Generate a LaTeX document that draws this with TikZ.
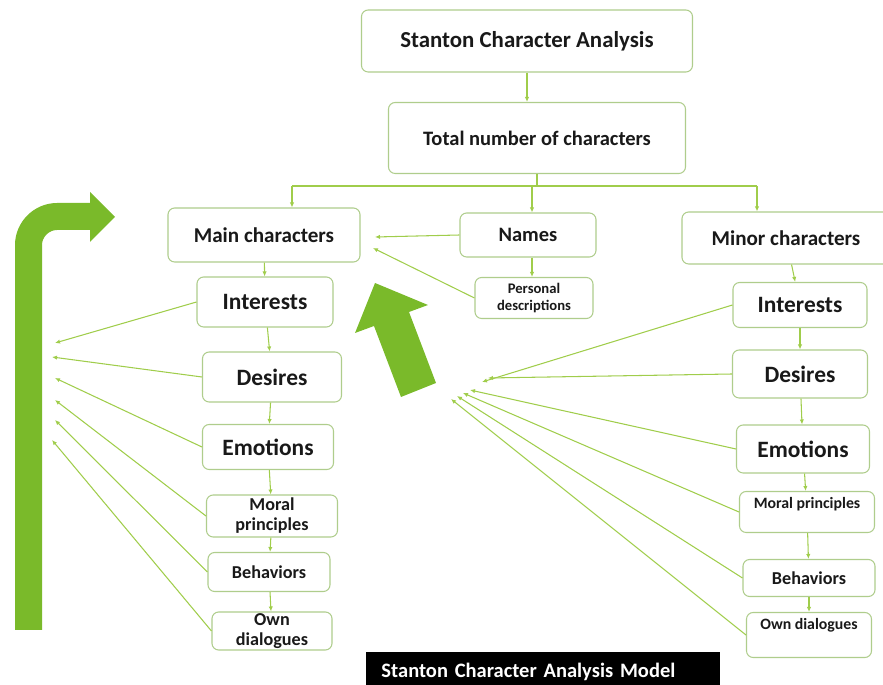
\documentclass[tikz,border=0pt]{standalone}
\usepackage{fontspec}
\setmainfont{Carlito}
\usetikzlibrary{arrows.meta}

\definecolor{boxline}{RGB}{175,205,140}
\definecolor{linkgreen}{RGB}{160,205,75}
\definecolor{arrowgreen}{RGB}{122,186,42}
\definecolor{inktext}{RGB}{25,25,25}

\begin{document}
\begin{tikzpicture}[x=0.03cm, y=-0.03cm,
    box/.style={rectangle, rounded corners=2mm, draw=boxline, line width=0.9pt, fill=white, text=inktext, align=center},
    link/.style={draw=linkgreen, line width=0.9pt, -{Latex[length=1.5mm, width=1.3mm]}},
    wire/.style={draw=linkgreen, line width=0.9pt}]

  \useasboundingbox (0,0) rectangle (883,685);

  % big green arrows
  \fill[arrowgreen] (15,630) -- (15,245) .. controls (15,222) and (34,203) .. (57,203) -- (90,203) -- (90,192)
        -- (115,217) -- (90,242) -- (90,230) -- (57,230) .. controls (49,230) and (42,237) .. (42,245) -- (42,630) -- cycle;
  \fill[arrowgreen] (401,397) -- (374,326) -- (355,333) -- (375,283) -- (428,305) -- (409,312) -- (436,383) -- cycle;

  % top of the tree
  \node [box, minimum width=9.93cm, minimum height=1.86cm, font=\bfseries\fontsize{19.5}{22}\selectfont] (title)   at (527,41)  {Stanton Character Analysis};
  \node [box, minimum width=8.91cm, minimum height=2.13cm, font=\bfseries\fontsize{17.5}{20}\selectfont] (total)   at (537,138) {Total number of characters};
  \node [box, minimum width=5.76cm, minimum height=1.62cm, font=\bfseries\fontsize{18}{20}\selectfont]   (main)    at (264,235) {Main characters};
  \node [box, minimum width=4.08cm, minimum height=1.32cm, font=\bfseries\fontsize{17.5}{20}\selectfont] (names)   at (528,235) {Names};
  \node [box, minimum width=3.54cm, minimum height=1.23cm, inner sep=1pt, font=\bfseries\fontsize{12.5}{14}\selectfont] (personal) at (534,298) {Personal\\descriptions};
  \node [box, minimum width=6.24cm, minimum height=1.56cm, font=\bfseries\fontsize{18}{20}\selectfont]   (minor)   at (786,238) {Minor characters};

  % main characters column
  \node [box, minimum width=4.08cm, minimum height=1.50cm, font=\bfseries\fontsize{20}{22}\selectfont]   (lint)    at (265,302) {Interests};
  \node [box, minimum width=4.17cm, minimum height=1.50cm, font=\bfseries\fontsize{20}{22}\selectfont]   (ldes)    at (272,377) {Desires};
  \node [box, minimum width=3.93cm, minimum height=1.35cm, font=\bfseries\fontsize{20}{22}\selectfont]   (lemo)    at (268,447) {Emotions};
  \node [box, minimum width=3.93cm, minimum height=1.26cm, inner sep=1pt, font=\bfseries\fontsize{15.5}{17}\selectfont] (lmor) at (272,516) {Moral\\principles};
  \node [box, minimum width=3.66cm, minimum height=1.17cm, font=\bfseries\fontsize{15.5}{17}\selectfont] (lbeh)    at (269,572) {Behaviors};
  \node [box, minimum width=3.60cm, minimum height=1.14cm, inner sep=0.5pt, font=\bfseries\fontsize{15.5}{16.5}\selectfont] (ldia) at (272,631) {Own\\dialogues};

  % minor characters column
  \node [box, minimum width=4.02cm, minimum height=1.35cm, font=\bfseries\fontsize{20}{22}\selectfont]   (rint)    at (800,305) {Interests};
  \node [box, minimum width=4.05cm, minimum height=1.44cm, font=\bfseries\fontsize{20}{22}\selectfont]   (rdes)    at (800,374) {Desires};
  \node [box, minimum width=3.99cm, minimum height=1.44cm, font=\bfseries\fontsize{20}{22}\selectfont]   (remo)    at (803,449) {Emotions};
  \node [box, minimum width=4.05cm, minimum height=1.23cm, text depth=0.55cm, font=\bfseries\fontsize{13.5}{15}\selectfont] (rmor) at (807,512) {Moral principles};
  \node [box, minimum width=3.96cm, minimum height=1.11cm, font=\bfseries\fontsize{15.5}{17}\selectfont] (rbeh)    at (809,578) {Behaviors};
  \node [box, minimum width=3.75cm, minimum height=1.35cm, text depth=0.65cm, font=\bfseries\fontsize{13.5}{15}\selectfont] (rdia) at (809,635) {Own dialogues};

  % caption
  \node [fill=black, text=white, minimum height=1.2cm, inner xsep=0.45cm, text width=9.69cm, align=left,
         font=\bfseries\fontsize{17.5}{19}\selectfont] (caption) at (543,672) {Stanton Character Analysis Model};

  % free ends
  \coordinate (busL)  at (292,186);
  \coordinate (busM)  at (532,186);
  \coordinate (busR)  at (757,186);
  \coordinate (mainN) at (375,237);
  \coordinate (mainP) at (373,248);
  \coordinate (hl1) at (55,343);
  \coordinate (hl2) at (52,357);
  \coordinate (hl3) at (55,378);
  \coordinate (hl4) at (55,400);
  \coordinate (hl5) at (55,420);
  \coordinate (hl6) at (52,440);
  \coordinate (hr1) at (482,382);
  \coordinate (hr2) at (488,378);
  \coordinate (hr3) at (470,390);
  \coordinate (hr4) at (463,393);
  \coordinate (hr5) at (457,396);
  \coordinate (hr6) at (451,399);

  % tree links
  \draw [link] (title.south) -- (title.south |- total.north);
  \draw [wire] (total.south) -- (total.south |- busM);
  \draw [wire] (busL) -- (busR);
  \draw [link] (busL) -- (busL |- main.north);
  \draw [link] (busM) -- (busM |- names.north);
  \draw [link] (busR) -- (busR |- minor.north);
  \draw [link] (names.west) -- (mainN);
  \draw [link] (personal.west) -- (mainP);
  \draw [link] (names.south -| busM) -- (busM |- personal.north);

  % columns
  \draw [link] (main) -- (lint);
  \draw [link] (lint) -- (ldes);
  \draw [link] (ldes) -- (lemo);
  \draw [link] (lemo) -- (lmor);
  \draw [link] (lmor) -- (lbeh);
  \draw [link] (lbeh) -- (ldia);
  \draw [link] (minor) -- (rint);
  \draw [link] (rint) -- (rdes);
  \draw [link] (rdes) -- (remo);
  \draw [link] (remo) -- (rmor);
  \draw [link] (rmor) -- (rbeh);
  \draw [link] (rbeh) -- (rdia);

  % pointers to the left
  \draw [link] (lint.west) -- (hl1);
  \draw [link] (ldes.west) -- (hl2);
  \draw [link] (lemo.west) -- (hl3);
  \draw [link] (lmor.west) -- (hl4);
  \draw [link] (lbeh.west) -- (hl5);
  \draw [link] (ldia.west) -- (hl6);

  % pointers from the right
  \draw [link] (rint.west) -- (hr1);
  \draw [link] (rdes.west) -- (hr2);
  \draw [link] (remo.west) -- (hr3);
  \draw [link] (rmor.west) -- (hr4);
  \draw [link] (rbeh.west) -- (hr5);
  \draw [link] (rdia.west) -- (hr6);

\end{tikzpicture}
\end{document}
